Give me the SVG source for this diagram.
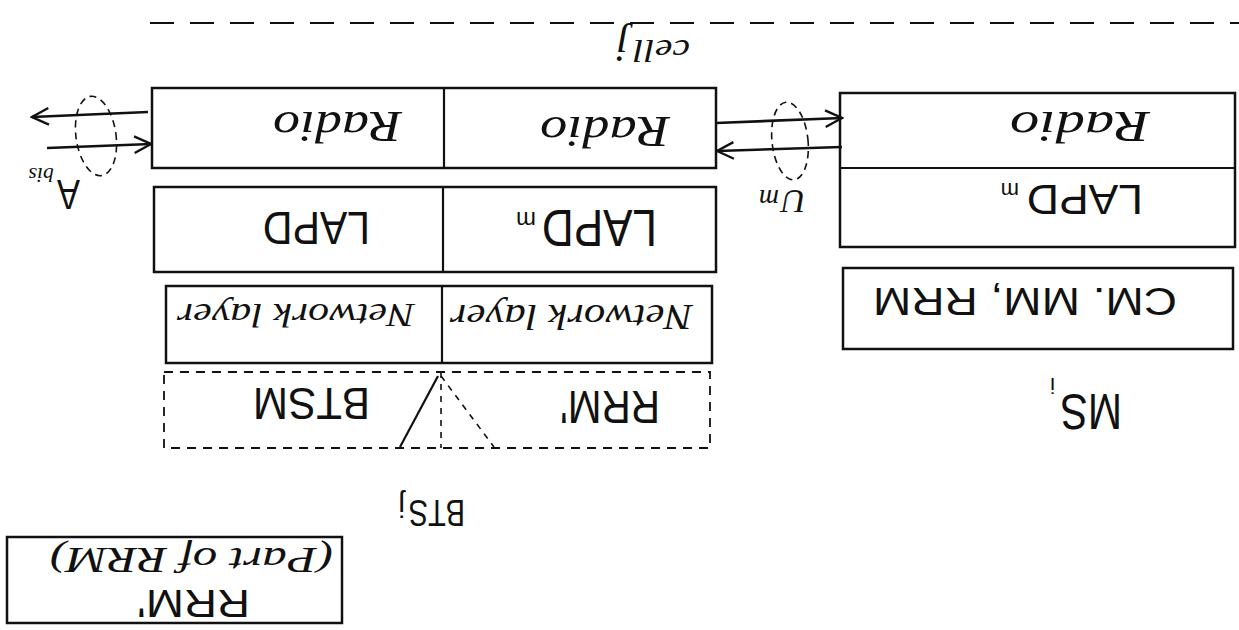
<svg xmlns="http://www.w3.org/2000/svg" width="1239" height="630" viewBox="0 0 1239 630">
<style>
  .box { fill: none; stroke: #111; stroke-width: 2.5; }
  .dbox { fill: none; stroke: #111; stroke-width: 1.8; stroke-dasharray: 9 7; }
  .div { stroke: #111; stroke-width: 2.2; fill: none; }
  .ddiv { stroke: #111; stroke-width: 1.6; stroke-dasharray: 6 6; fill: none; }
  .caps { font-family: "Liberation Sans", Arial, sans-serif; fill: #111; }
  .hand { font-family: "Liberation Serif", "Times New Roman", serif; font-style: italic; fill: #111; }
  .arrow { stroke: #111; stroke-width: 2.6; fill: none; }
  .loop { stroke: #111; stroke-width: 1.6; fill: none; stroke-dasharray: 7 5; }
</style>
<defs>
  <marker id="head" viewBox="0 0 12 12" refX="11" refY="6" markerWidth="20" markerHeight="20" markerUnits="userSpaceOnUse" orient="auto">
    <path d="M1,1 L11,6 L1,11" fill="none" stroke="#111" stroke-width="1.4"/>
  </marker>
</defs>
<rect width="1239" height="630" fill="#fff"/>

<g id="cell-boundary">
  <line x1="150" y1="23" x2="1239" y2="23" stroke="#111" stroke-width="2" stroke-dasharray="24 16"/>
  <g transform="translate(690,40) rotate(180)">
    <text class="hand" font-size="32" textLength="57" lengthAdjust="spacingAndGlyphs">cell</text>
    <text class="hand" x="62" y="8" font-size="44">j</text>
  </g>
</g>

<g id="bts-radio">
  <rect class="box" x="152" y="88" width="564" height="80"/>
  <line class="div" x1="444" y1="88" x2="444" y2="168"/>
  <g transform="translate(402,112) rotate(180)"><text class="hand" font-size="44" textLength="129" lengthAdjust="spacingAndGlyphs">Radio</text></g>
  <g transform="translate(670,117) rotate(180)"><text class="hand" font-size="44" textLength="130" lengthAdjust="spacingAndGlyphs">Radio</text></g>
</g>

<g id="bts-lapd">
  <rect class="box" x="154" y="187" width="562" height="85"/>
  <line class="div" x1="443" y1="187" x2="443" y2="272"/>
  <g transform="translate(657,210) rotate(180)">
    <text class="caps" font-size="44" transform="scale(1,1.18)">LAPD</text>
    <text class="caps" x="121" y="-2" font-size="24">m</text>
  </g>
  <g transform="translate(370,212) rotate(180)"><text class="caps" font-size="46" textLength="107" lengthAdjust="spacingAndGlyphs">LAPD</text></g>
</g>

<g id="bts-network">
  <rect class="box" x="166" y="286" width="546" height="77"/>
  <line class="div" x1="442" y1="286" x2="442" y2="363"/>
  <g transform="translate(693,305) rotate(180)"><text class="hand" font-size="36" textLength="243" lengthAdjust="spacingAndGlyphs">Network layer</text></g>
  <g transform="translate(415,304) rotate(180)"><text class="hand" font-size="34" textLength="238" lengthAdjust="spacingAndGlyphs">Network layer</text></g>
</g>

<g id="bts-rrm-btsm">
  <rect class="dbox" x="164" y="372" width="546" height="76"/>
  <line class="ddiv" x1="441" y1="372" x2="441" y2="448"/>
  <line class="div" x1="438" y1="376" x2="400" y2="447" stroke-width="1.8"/>
  <line class="ddiv" x1="441" y1="376" x2="494" y2="447"/>
  <g transform="translate(660,391) rotate(180)"><text class="caps" font-size="47" textLength="100" lengthAdjust="spacingAndGlyphs">RRM'</text></g>
  <g transform="translate(370,388) rotate(180)"><text class="caps" font-size="45" textLength="117" lengthAdjust="spacingAndGlyphs">BTSM</text></g>
</g>

<g id="bts-label">
  <g transform="translate(465,500) rotate(180)">
    <text class="caps" font-size="29" transform="scale(1,1.3)">BTS</text>
    <text class="caps" x="60" y="4" font-size="30">j</text>
  </g>
</g>

<g id="ms-radio-lapdm">
  <rect class="box" x="840" y="93" width="395" height="154"/>
  <line class="div" x1="840" y1="168" x2="1235" y2="168"/>
  <g transform="translate(1150,112) rotate(180)"><text class="hand" font-size="44" textLength="140" lengthAdjust="spacingAndGlyphs">Radio</text></g>
  <g transform="translate(1143,185) rotate(180)">
    <text class="caps" font-size="42" textLength="116" lengthAdjust="spacingAndGlyphs">LAPD</text>
    <text class="caps" x="124" y="2" font-size="22">m</text>
  </g>
</g>

<g id="ms-cm-mm-rrm">
  <rect class="box" x="843" y="268" width="390" height="81"/>
  <g transform="translate(1177,288) rotate(180)"><text class="caps" font-size="38" textLength="304" lengthAdjust="spacingAndGlyphs">CM. MM, RRM</text></g>
</g>

<g id="ms-label">
  <g transform="translate(1122,394) rotate(180)">
    <text class="caps" font-size="41" transform="scale(1,1.24)">MS</text>
    <text class="caps" x="67" y="16" font-size="22">i</text>
  </g>
</g>

<g id="rrm-note">
  <rect class="box" x="7" y="537" width="335" height="86"/>
  <g transform="translate(250,590) rotate(180)"><text class="caps" font-size="38" textLength="113" lengthAdjust="spacingAndGlyphs">RRM'</text></g>
  <g transform="translate(333,548) rotate(180)"><text class="hand" font-size="36" textLength="283" lengthAdjust="spacingAndGlyphs">(Part of RRM)</text></g>
</g>

<g id="connectors">
  <line class="arrow" x1="148" y1="112" x2="32" y2="117" marker-end="url(#head)"/>
  <line class="arrow" x1="47" y1="148" x2="151" y2="144" marker-end="url(#head)"/>
  <ellipse class="loop" cx="96" cy="136" rx="20" ry="40" transform="rotate(-8 96 136)"/>
  <line class="arrow" x1="716" y1="123" x2="842" y2="118" marker-end="url(#head)"/>
  <line class="arrow" x1="842" y1="147" x2="717" y2="151" marker-end="url(#head)"/>
  <ellipse class="loop" cx="790" cy="141" rx="18" ry="39" transform="rotate(-6 790 141)"/>
  <g id="abis-label" transform="translate(80,180) rotate(180)">
    <text class="caps" font-size="42" textLength="23" lengthAdjust="spacingAndGlyphs">A</text>
    <text class="hand" x="26" y="12" font-size="22">bis</text>
  </g>
  <g id="um-label" transform="translate(806,190) rotate(180)">
    <text class="hand" font-size="34">U</text>
    <text class="hand" x="27" y="0" font-size="28">m</text>
  </g>
</g>
</svg>
